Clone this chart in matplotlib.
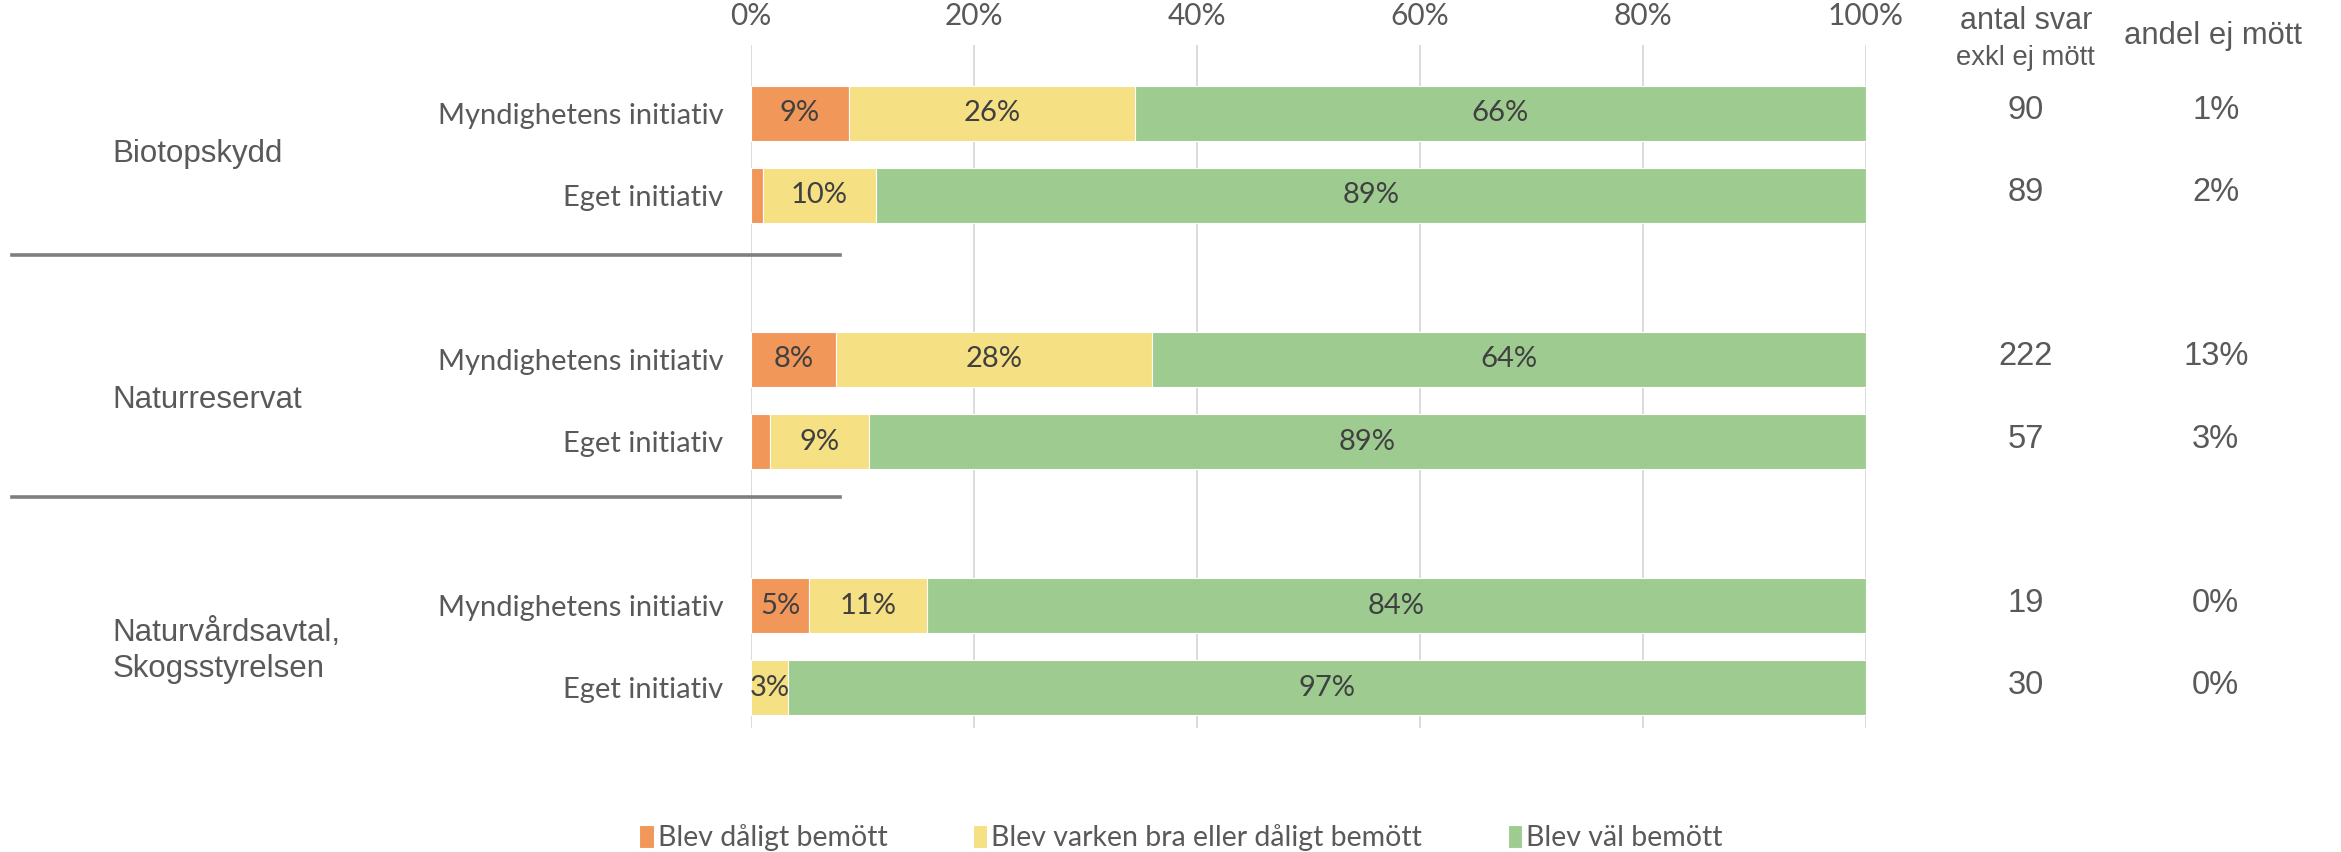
import numpy as np
import matplotlib.pyplot as plt
from matplotlib.transforms import blended_transform_factory
from matplotlib.lines import Line2D

# --- data ---
groups = ['Biotopskydd', 'Naturreservat', 'Naturvårdsavtal,\nSkogsstyrelsen']
row_labels = ['Myndighetens initiativ', 'Eget initiativ'] * 3
row_pos = [0, 1, 3, 4, 6, 7]
group_pos = [0.5, 3.5, 6.55]

dåligt = [8.8, 1.1, 7.6, 1.7, 5.2, 0.0]
varken = [25.6, 10.1, 28.4, 8.9, 10.6, 3.3]
väl = [65.6, 88.8, 64.0, 89.4, 84.2, 96.7]

antal_svar = ['90', '89', '222', '57', '19', '30']
andel_ej = ['1%', '2%', '13%', '3%', '0%', '0%']

series_names = ['Blev dåligt bemött', 'Blev varken bra eller dåligt bemött', 'Blev väl bemött']
colors = ['#F2975A', '#F6E084', '#9ECC90']

text_grey = '#595959'
label_dark = '#404040'

fig = plt.figure(figsize=(23.41, 8.52), dpi=100)
ax = fig.add_axes([0.3208, 0.1455, 0.4763, 0.8017])

left = np.zeros(len(row_pos))
for vals, col, name in zip([dåligt, varken, väl], colors, series_names):
    vals = np.array(vals)
    ax.barh(row_pos, vals, left=left, height=0.67, color=col,
            edgecolor='white', linewidth=0.8, label=name, zorder=3)
    for y, l, v in zip(row_pos, left, vals):
        if v >= 3:
            ax.text(l + v / 2, y, f'{round(v):.0f}%', ha='center', va='center',
                    fontsize=21, family='Lato', color=label_dark, zorder=4)
    left += vals

ax.set_xlim(0, 100)
ax.set_ylim(7.49, -0.83)
ax.set_xticks(np.arange(0, 101, 20))
ax.set_xticklabels([f'{t}%' for t in range(0, 101, 20)])
ax.xaxis.tick_top()
ax.tick_params(axis='x', length=0, pad=11, labelsize=21.5, labelcolor=text_grey)
for lab in ax.get_xticklabels():
    lab.set_family('Lato')
ax.set_yticks(row_pos)
ax.set_yticklabels(row_labels)
ax.tick_params(axis='y', length=0, pad=20, labelsize=21, labelcolor=text_grey)
for lab in ax.get_yticklabels():
    lab.set_family('Lato')
ax.grid(axis='x', color='#D9D9D9', linewidth=1.3, zorder=0)
for s in ax.spines.values():
    s.set_visible(False)

# group labels (x in figure fraction, y in data)
tr = blended_transform_factory(fig.transFigure, ax.transData)
for g, y in zip(groups, group_pos):
    ax.text(0.048, y, g, transform=tr, ha='left', va='center', fontsize=22.5,
            family='Liberation Sans', color=text_grey, linespacing=1.25)

# group separator lines
for yf in [1 - 255 / 852, 1 - 497 / 852]:
    fig.add_artist(Line2D([0.005, 0.359], [yf, yf], color='#7F7F7F', linewidth=2.6))

# right-hand columns
for y, a, b in zip(row_pos, antal_svar, andel_ej):
    ax.text(0.8654, y - 0.03, a, transform=tr, ha='center', va='center',
            fontsize=23.5, family='Liberation Sans', color=text_grey)
    ax.text(0.9465, y - 0.03, b, transform=tr, ha='center', va='center',
            fontsize=23.5, family='Liberation Sans', color=text_grey)

fig.text(0.8654, 1 - 21 / 852, 'antal svar', ha='center', va='center',
         fontsize=22, family='Liberation Sans', color=text_grey)
fig.text(0.8654, 1 - 58 / 852, 'exkl ej mött', ha='center', va='center',
         fontsize=19.8, family='Liberation Sans', color=text_grey)
fig.text(0.9455, 1 - 36 / 852, 'andel ej mött', ha='center', va='center',
         fontsize=22.3, family='Liberation Sans', color=text_grey)

# legend
handles, labels = ax.get_legend_handles_labels()
leg = fig.legend(handles, labels, loc='center', bbox_to_anchor=(0.5045, 1 - 838 / 852),
                 ncol=3, frameon=False, handlelength=0.5, handleheight=0.85,
                 handletextpad=0.15, columnspacing=3.0,
                 prop={'family': 'Lato', 'size': 20.5})
for t in leg.get_texts():
    t.set_color(text_grey)

fig.savefig('out.png', dpi=100)
